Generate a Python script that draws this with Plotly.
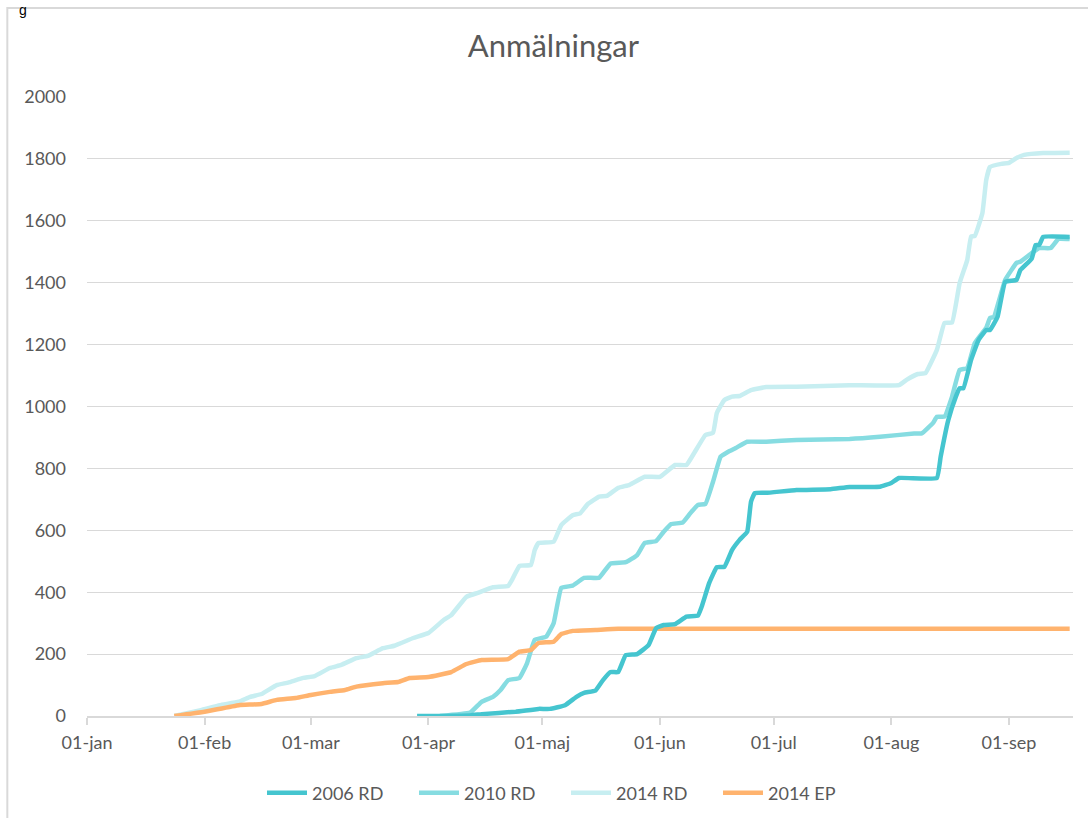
import plotly.graph_objects as go

# ---- data ----
rd2006_dates = ["2014-03-29", "2014-04-12", "2014-04-15", "2014-04-24", "2014-04-30", "2014-05-03",
                "2014-05-07", "2014-05-10", "2014-05-12", "2014-05-15", "2014-05-17", "2014-05-19",
                "2014-05-21", "2014-05-23", "2014-05-26", "2014-05-29", "2014-05-31", "2014-06-02",
                "2014-06-05", "2014-06-08", "2014-06-11", "2014-06-12", "2014-06-14", "2014-06-16",
                "2014-06-18", "2014-06-20", "2014-06-22", "2014-06-24", "2014-06-25", "2014-06-26",
                "2014-06-29", "2014-07-07", "2014-07-16", "2014-07-21", "2014-07-29", "2014-08-01",
                "2014-08-03", "2014-08-13", "2014-08-14", "2014-08-16", "2014-08-18", "2014-08-19",
                "2014-08-20", "2014-08-22", "2014-08-24", "2014-08-26", "2014-08-27", "2014-08-29",
                "2014-08-31", "2014-09-03", "2014-09-04", "2014-09-07", "2014-09-08", "2014-09-09",
                "2014-09-10", "2014-09-17"]
rd2006_values = [0, 2, 6, 14, 23, 23,
                 35, 62, 75, 82, 116, 142,
                 142, 197, 200, 229, 284, 294,
                 297, 321, 324, 353, 430, 481,
                 482, 536, 569, 595, 692, 720,
                 721, 730, 733, 740, 741, 753,
                 769, 769, 838, 956, 1032, 1059,
                 1059, 1150, 1215, 1247, 1247, 1290,
                 1403, 1409, 1441, 1478, 1522, 1522,
                 1548, 1548]

rd2010_dates = ["2014-04-04", "2014-04-12", "2014-04-15", "2014-04-18", "2014-04-20", "2014-04-22",
                "2014-04-25", "2014-04-27", "2014-04-29", "2014-05-02", "2014-05-04", "2014-05-06",
                "2014-05-09", "2014-05-12", "2014-05-16", "2014-05-19", "2014-05-23", "2014-05-26",
                "2014-05-28", "2014-05-31", "2014-06-02", "2014-06-04", "2014-06-07", "2014-06-09",
                "2014-06-11", "2014-06-13", "2014-06-15", "2014-06-17", "2014-06-19", "2014-06-21",
                "2014-06-24", "2014-06-29", "2014-07-07", "2014-07-21", "2014-07-29", "2014-08-07",
                "2014-08-09", "2014-08-12", "2014-08-13", "2014-08-15", "2014-08-17", "2014-08-19",
                "2014-08-21", "2014-08-23", "2014-08-26", "2014-08-27", "2014-08-28", "2014-08-31",
                "2014-09-03", "2014-09-04", "2014-09-07", "2014-09-09", "2014-09-12", "2014-09-14",
                "2014-09-17"]
rd2010_values = [0, 11, 46, 62, 84, 116,
                 123, 171, 246, 256, 300, 414,
                 421, 446, 447, 493, 497, 520,
                 559, 565, 595, 620, 625, 655,
                 682, 685, 757, 838, 854, 866,
                 886, 886, 892, 895, 902, 913,
                 913, 947, 967, 967, 1032, 1118,
                 1124, 1205, 1254, 1286, 1289, 1409,
                 1464, 1468, 1496, 1512, 1512, 1541,
                 1541]

rd2014_dates = ["2014-01-24", "2014-01-31", "2014-02-05", "2014-02-10", "2014-02-13", "2014-02-16",
                "2014-02-20", "2014-02-23", "2014-02-27", "2014-03-02", "2014-03-06", "2014-03-09",
                "2014-03-13", "2014-03-16", "2014-03-20", "2014-03-23", "2014-03-28", "2014-04-01",
                "2014-04-05", "2014-04-07", "2014-04-11", "2014-04-14", "2014-04-18", "2014-04-22",
                "2014-04-23", "2014-04-25", "2014-04-28", "2014-04-29", "2014-04-30", "2014-05-04",
                "2014-05-06", "2014-05-09", "2014-05-11", "2014-05-13", "2014-05-16", "2014-05-18",
                "2014-05-21", "2014-05-24", "2014-05-28", "2014-06-01", "2014-06-05", "2014-06-08",
                "2014-06-10", "2014-06-13", "2014-06-15", "2014-06-16", "2014-06-18", "2014-06-20",
                "2014-06-22", "2014-06-25", "2014-06-29", "2014-07-07", "2014-07-21", "2014-08-03",
                "2014-08-05", "2014-08-08", "2014-08-10", "2014-08-13", "2014-08-15", "2014-08-17",
                "2014-08-19", "2014-08-21", "2014-08-22", "2014-08-23", "2014-08-25", "2014-08-26",
                "2014-08-27", "2014-08-30", "2014-09-01", "2014-09-03", "2014-09-05", "2014-09-10",
                "2014-09-17"]
rd2014_values = [0, 19, 35, 46, 62, 71,
                 100, 108, 123, 129, 155, 165,
                 187, 194, 219, 227, 252, 268,
                 310, 326, 385, 398, 416, 420,
                 439, 485, 488, 536, 559, 563,
                 617, 649, 655, 685, 709, 711,
                 737, 747, 773, 773, 811, 811,
                 849, 908, 915, 979, 1021, 1032,
                 1034, 1053, 1063, 1064, 1069, 1069,
                 1086, 1105, 1108, 1183, 1270, 1271,
                 1399, 1473, 1549, 1551, 1625, 1732,
                 1774, 1784, 1787, 1803, 1813, 1819,
                 1820]

ep2014_dates = ["2014-01-24", "2014-02-01", "2014-02-10", "2014-02-16", "2014-02-20", "2014-02-25",
                "2014-03-01", "2014-03-06", "2014-03-10", "2014-03-13", "2014-03-20", "2014-03-24",
                "2014-03-27", "2014-04-01", "2014-04-07", "2014-04-11", "2014-04-15", "2014-04-22",
                "2014-04-25", "2014-04-28", "2014-04-30", "2014-05-04", "2014-05-06", "2014-05-09",
                "2014-05-15", "2014-05-21", "2014-09-17"]
ep2014_values = [0, 14, 35, 39, 52, 58,
                 68, 78, 84, 95, 106, 110,
                 123, 126, 142, 168, 181, 184,
                 208, 213, 236, 240, 265, 275,
                 278, 282, 282]

series_names = ["2006 RD", "2010 RD", "2014 RD", "2014 EP"]
series_colors = ["#45C5CF", "#86DCE1", "#C7EEF1", "#FFB36E"]

tick_dates = ["2014-01-01", "2014-02-01", "2014-03-01", "2014-04-01", "2014-05-01",
              "2014-06-01", "2014-07-01", "2014-08-01", "2014-09-01"]
tick_labels = ["01-jan", "01-feb", "01-mar", "01-apr", "01-maj",
               "01-jun", "01-jul", "01-aug", "01-sep"]

FONT = "Lato, 'Open Sans', sans-serif"
TXT = "#595959"

fig = go.Figure()
data = [(rd2006_dates, rd2006_values), (rd2010_dates, rd2010_values),
        (rd2014_dates, rd2014_values), (ep2014_dates, ep2014_values)]
# draw order: lightest behind, legend order kept by legendrank
order = [2, 1, 3, 0]
for i in order:
    d, v = data[i]
    fig.add_trace(go.Scatter(x=d, y=v, mode="lines", name=series_names[i], legendrank=i + 1,
                             line=dict(color=series_colors[i], width=4.5,
                                       shape="spline", smoothing=0.3)))

fig.update_layout(
    width=1088, height=818,
    margin=dict(l=87, r=15, t=97, b=102, autoexpand=False),
    paper_bgcolor="white", plot_bgcolor="white",
    font=dict(family=FONT, color=TXT, size=18),
    title=dict(text="Anmälningar", x=0.5086, xanchor="center", y=0.943, yanchor="middle",
               font=dict(family=FONT, size=31, color=TXT)),
    legend=dict(orientation="h", xref="container", x=262 / 1088, xanchor="left",
                yref="container", y=1 - 793 / 818, yanchor="middle",
                font=dict(size=18, color=TXT), itemwidth=40,
                entrywidth=97, entrywidthmode="pixels"),
    showlegend=True,
)
fig.update_xaxes(type="date", range=["2014-01-01", "2014-09-17T21:00"],
                 tickvals=tick_dates, ticktext=tick_labels, automargin=False,
                 showgrid=False, showline=True, linecolor="#D9D9D9", linewidth=1.5,
                 ticks="outside", ticklen=7, tickcolor="#D9D9D9", tickwidth=1.5,
                 ticklabelstandoff=3, zeroline=False,
                 tickfont=dict(size=18, color=TXT))
fig.update_yaxes(range=[0, 2000], tickvals=list(range(0, 2001, 200)), automargin=False,
                 showgrid=True, gridcolor="#D9D9D9", gridwidth=1.2,
                 showline=False, zeroline=False, ticks="",
                 ticklabelstandoff=20, tickfont=dict(size=18, color=TXT))

# outer chart border
fig.add_shape(type="rect", xref="paper", yref="paper",
              x0=-0.0808, x1=1.03, y0=-0.2, y1=1.1438,
              line=dict(color="#D9D9D9", width=2), fillcolor="rgba(0,0,0,0)", layer="below")
# fragment of surrounding document text at the top-left
fig.add_annotation(text="g", xref="paper", yref="paper", x=-0.071, y=1.1567,
                   xanchor="left", yanchor="top", showarrow=False,
                   font=dict(family="Liberation Sans, sans-serif", size=14, color="#000000"))

fig.write_html("out.html", config={"displayModeBar": False},
               post_script="document.body.style.margin='0';")
